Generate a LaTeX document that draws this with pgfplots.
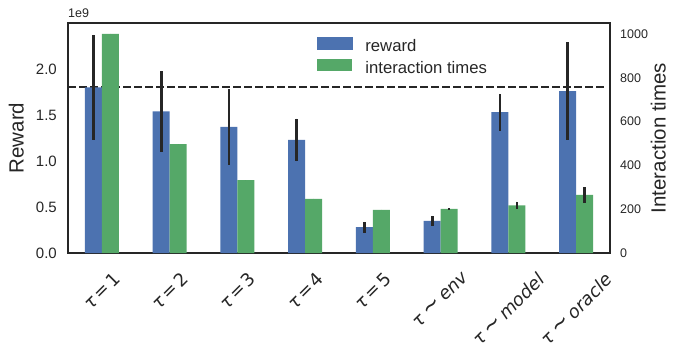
\documentclass[border=0pt]{standalone}
\usepackage{pgfplots}
\pgfplotsset{compat=1.18}
\usepackage{pgfplotstable}
\usepackage{graphicx}
\usepackage{fontspec}
\setmainfont{Liberation Sans}
\newfontfamily\dv{DejaVu Sans}

\definecolor{sbblue}{HTML}{4C72B0}
\definecolor{sbgreen}{HTML}{55A868}
\definecolor{ink}{HTML}{262626}

% reward in units of 1e9
\pgfplotstableread{
x reward rerr
0 1.80 0.57
1 1.54 0.44
2 1.37 0.41
3 1.23 0.23
4 0.28 0.058
5 0.35 0.053
6 1.53 0.20
7 1.76 0.53
}\rewardtab

\pgfplotstableread{
x itimes terr
0 1000 0
1 497 0
2 333 0
3 247 0
4 197 0
5 202 2
6 218 17
7 265 36
}\timestab

\newcommand\tl[1]{\rotatebox{45}{\dv\fontsize{18}{21}\selectfont #1}}
\newcommand\eq[1]{\textit{τ}\hspace{0.12em}=\hspace{0.12em}#1}
\newcommand\sm[1]{\textit{τ}\hspace{0.2em}\scalebox{1.25}{∼}\hspace{0.2em}\textit{#1}}

\pgfplotsset{
  base/.style={
    width=542pt, height=230pt, scale only axis,
    xmin=-0.5, xmax=7.5,
    axis line style={ink, line width=1.75pt},
    major tick length=0pt,
    tick style={draw=none},
    ticklabel style={text=ink},
    label style={text=ink, font=\fontsize{20.5}{24}\selectfont, inner sep=0pt},
  },
  ebar/.style={error bars/.cd, y dir=both, y explicit, error mark=none,
    error bar style={ink, line width=2.7pt}, /pgfplots/.cd},
}

\begin{document}
\begin{tikzpicture}
\begin{axis}[base, name=main,
  ymin=0, ymax=2.5,
  ytick={0,0.5,1,1.5,2},
  yticklabel style={/pgf/number format/.cd, fixed, fixed zerofill, precision=1, assume math mode=true,
    /tikz/.cd, font=\fontsize{15}{18}\selectfont, anchor=east, inner sep=0pt, xshift=-11pt},
  xtick={0,...,7},
  xticklabels={
    {\tl{\eq{1}}},
    {\tl{\eq{2}}},
    {\tl{\eq{3}}},
    {\tl{\eq{4}}},
    {\tl{\eq{5}}},
    {\tl{\sm{env}}},
    {\tl{\sm{model}}},
    {\tl{\sm{oracle}}}},
  xticklabel style={anchor=north, inner sep=0pt, yshift=-18pt},
  ylabel={Reward},
  ylabel style={at={(axis description cs:-0.0812,0.5)}, anchor=south},
]
\addplot[ink, line width=2pt, dash pattern=on 7.7pt off 3.3pt] coordinates {(-0.5,1.8) (7.43,1.8)};
\addplot[ybar, bar width=17pt, bar shift=0pt, fill=sbblue, draw=none, ebar]
  table[x expr=\thisrow{x}-0.125, y=reward, y error=rerr]{\rewardtab};
\end{axis}

\begin{axis}[base,
  ymin=0, ymax=1050,
  axis x line=none,
  axis y line*=right,
  ytick={0,200,400,600,800,1000},
  yticklabel style={/pgf/number format/.cd, 1000 sep={}, assume math mode=true,
    /tikz/.cd, font=\fontsize{12.5}{15}\selectfont, anchor=west, inner sep=0pt, xshift=10pt},
  ylabel={Interaction times},
  ylabel style={at={(axis description cs:1.1033,0.5)}, anchor=south},
  legend cell align=left,
  legend style={at={(rel axis cs:0.459,0.94)}, anchor=north west, draw=none, fill=none,
    inner sep=0pt, row sep=4pt, text=ink, font=\fontsize{16.7}{19}\selectfont,
    /tikz/every odd column/.append style={column sep=11pt}},
]
\addlegendimage{legend image code/.code={\fill[sbblue] (0pt,-3pt) rectangle (35pt,9pt);}}
\addlegendentry{reward}
\addplot[ybar, bar width=17pt, bar shift=0pt, fill=sbgreen, draw=none,
  legend image code/.code={\fill[sbgreen] (0pt,-3pt) rectangle (35pt,9pt);}, ebar]
  table[x expr=\thisrow{x}+0.125, y=itimes, y error=terr]{\timestab};
\addlegendentry{interaction times}
\end{axis}

\node[anchor=south west, inner sep=0pt, text=ink, font=\fontsize{12.5}{14}\selectfont]
  at ([yshift=5pt]main.north west) {1e9};

\pgfresetboundingbox
\path ([shift={(-68pt,-103pt)}]main.south west) rectangle ([shift={(75pt,23pt)}]main.north east);
\end{tikzpicture}
\end{document}
